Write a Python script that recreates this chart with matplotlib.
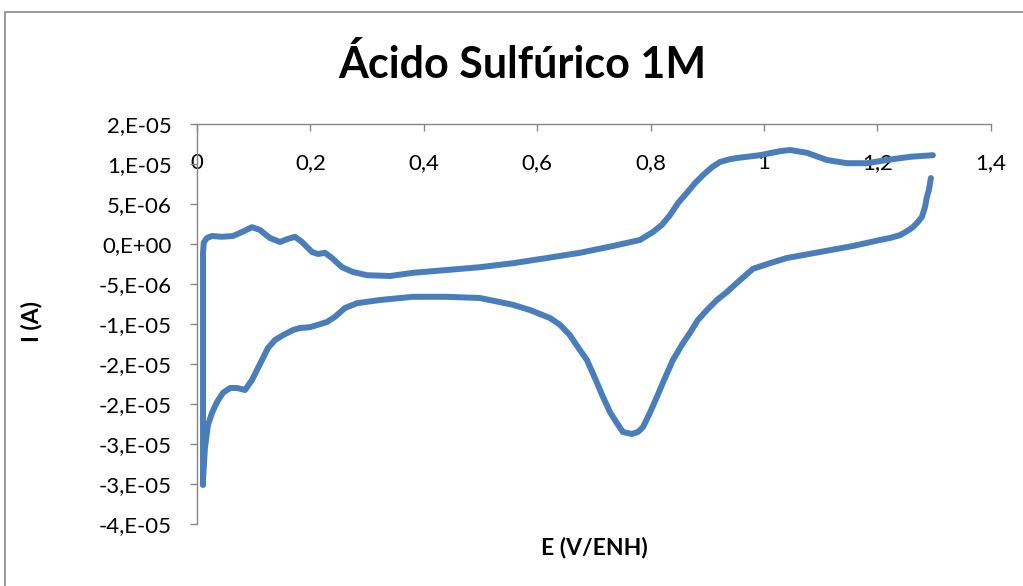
import math
import numpy as np
import matplotlib
matplotlib.use('Agg')
import matplotlib.pyplot as plt
from matplotlib.patches import Rectangle
from matplotlib.ticker import FuncFormatter, MultipleLocator

# Barrido anódico (E en V/ENH, I en microamperios)
E_anod = [0.0106, 0.0106, 0.0120, 0.0176, 0.0265, 0.0441, 0.0635, 0.0794, 0.0970,
          0.1111, 0.1287, 0.1464, 0.1587, 0.1728, 0.1852, 0.2028, 0.2134, 0.2257,
          0.2381, 0.2557, 0.2751, 0.2998, 0.3404, 0.3810, 0.4409, 0.4991, 0.5573,
          0.6173, 0.6755, 0.7337, 0.7813, 0.8042, 0.8201, 0.8342, 0.8483, 0.8642,
          0.8783, 0.8924, 0.9083, 0.9224, 0.9400, 0.9524, 0.9929, 1.0282, 1.0459,
          1.0758, 1.1111, 1.1464, 1.1817, 1.2169, 1.2575, 1.2981]
I_anod = [-30.1, -1.1, 0.2, 0.75, 1.0, 0.9, 1.0, 1.5, 2.1,
          1.75, 0.75, 0.25, 0.6, 0.9, 0.25, -1.0, -1.25, -1.1,
          -1.75, -2.9, -3.5, -3.9, -4.0, -3.6, -3.25, -2.9, -2.4,
          -1.75, -1.1, -0.25, 0.5, 1.5, 2.4, 3.6, 5.1, 6.4,
          7.6, 8.6, 9.6, 10.25, 10.6, 10.75, 11.1, 11.6, 11.75,
          11.4, 10.5, 10.1, 10.1, 10.5, 10.9, 11.1]

# Barrido catódico
E_cat = [1.2945, 1.2910, 1.2875, 1.2840, 1.2787, 1.2716, 1.2628, 1.2522, 1.2399,
         1.2222, 1.2046, 1.1570, 1.0988, 1.0406, 1.0106, 0.9806, 0.9541, 0.9347,
         0.9171, 0.8995, 0.8836, 0.8695, 0.8554, 0.8395, 0.8254, 0.8113, 0.7989,
         0.7866, 0.7778, 0.7672, 0.7513, 0.7407, 0.7284, 0.7160, 0.7019, 0.6878,
         0.6720, 0.6578, 0.6402, 0.6226, 0.5873, 0.5573, 0.4991, 0.4409, 0.3810,
         0.3228, 0.2822, 0.2610, 0.2434, 0.2293, 0.2134, 0.1993, 0.1817, 0.1693,
         0.1517, 0.1376, 0.1252, 0.1146, 0.1058, 0.0970, 0.0847, 0.0705, 0.0582,
         0.0459, 0.0353, 0.0265, 0.0194, 0.0141, 0.0106, 0.0106]
I_cat = [8.25, 6.75, 5.9, 4.6, 3.4, 2.75, 2.1, 1.6, 1.1,
         0.75, 0.5, -0.25, -1.0, -1.75, -2.4, -3.1, -4.75, -6.0,
         -7.0, -8.25, -9.5, -11.1, -12.6, -14.5, -16.75, -19.1, -21.1,
         -22.9, -23.5, -23.75, -23.5, -22.4, -21.0, -19.1, -16.75, -14.5,
         -12.9, -11.4, -10.1, -9.25, -8.25, -7.6, -6.75, -6.6, -6.6,
         -7.0, -7.4, -8.0, -9.1, -9.75, -10.1, -10.4, -10.5, -10.75,
         -11.4, -12.0, -13.0, -14.5, -15.75, -17.0, -18.25, -18.0, -18.0,
         -18.6, -19.75, -21.1, -22.6, -25.4, -29.5, -30.1]

color = '#4A7EBB'
font = ['Lato', 'DejaVu Sans']
plt.rcParams['font.family'] = font


def excel_sci(v, pos):
    if abs(v) < 1e-12:
        return '0,E+00'
    sign = '-' if v < 0 else ''
    a = abs(v)
    exp = math.floor(math.log10(a) + 1e-9)
    m = a / 10 ** exp
    r = math.floor(m + 0.5 + 1e-9)
    if r >= 10:
        r = 1
        exp += 1
    return f'{sign}{r},E{"-" if exp < 0 else "+"}{abs(exp):02d}'


def comma_fmt(v, pos):
    s = f'{v:.1f}'.rstrip('0').rstrip('.')
    return s.replace('.', ',')


fig = plt.figure(figsize=(10.23, 5.86), dpi=100)
ax = fig.add_axes([197 / 1023, 1 - 524 / 586, (990.7 - 197) / 1023, 400 / 586])

ax.plot(E_anod, np.array(I_anod) * 1e-6, color=color, lw=4.3,
        solid_capstyle='round', solid_joinstyle='round')
ax.plot(E_cat, np.array(I_cat) * 1e-6, color=color, lw=4.3,
        solid_capstyle='round', solid_joinstyle='round')

ax.set_xlim(0, 1.4)
ax.set_ylim(-3.5e-5, 1.5e-5)
ax.xaxis.set_major_locator(MultipleLocator(0.2))
ax.yaxis.set_major_locator(MultipleLocator(5e-6))
ax.xaxis.set_major_formatter(FuncFormatter(comma_fmt))
ax.yaxis.set_major_formatter(FuncFormatter(excel_sci))

# eje horizontal cruzando arriba
ax.spines['bottom'].set_position(('axes', 1.0))
ax.spines['top'].set_visible(False)
ax.spines['right'].set_visible(False)
for s in ['bottom', 'left']:
    ax.spines[s].set_color('#868686')
    ax.spines[s].set_linewidth(1)

ax.tick_params(axis='x', direction='out', length=5, width=1, color='#868686',
               pad=16, labelsize=16)
ax.tick_params(axis='y', direction='out', length=5, width=1, color='#868686',
               pad=13, labelsize=16)

fig.text(522 / 1023, 1 - 65 / 586, 'Ácido Sulfúrico 1M', ha='center', va='center',
         fontsize=31, fontweight='bold')
fig.text(594 / 1023, 1 - 548 / 586, 'E (V/ENH)', ha='center', va='center',
         fontsize=16.5, fontweight='bold')
fig.text(32 / 1023, 1 - 322 / 586, 'I (A)', ha='center', va='center',
         fontsize=16.5, fontweight='bold', rotation=90)

fig.patches.append(Rectangle((5 / 1023, -0.05), 1.1, 1 - 12 / 586 + 0.05,
                             transform=fig.transFigure, fill=False,
                             edgecolor='#888888', lw=1.2))

fig.savefig('out.png', dpi=100)
